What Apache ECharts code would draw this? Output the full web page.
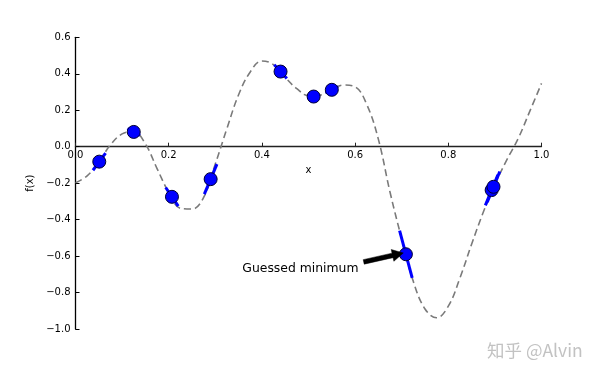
<!DOCTYPE html>
<html>
<head>
<meta charset="utf-8">
<script src="https://cdn.jsdelivr.net/npm/echarts@6/dist/echarts.min.js"></script>
<style>html,body{margin:0;padding:0;background:#fff;}#main{width:602px;height:376px;}</style>
</head>
<body>
<div id="main"></div>
<script>
// f(x) curve
const curveX = [0.000,0.025,0.050,0.075,0.100,0.125,0.150,0.175,0.200,0.225,0.250,0.275,0.300,0.325,0.350,0.375,0.400,0.425,0.450,0.475,0.500,0.525,0.550,0.575,0.600,0.625,0.650,0.675,0.700,0.725,0.750,0.775,0.800,0.825,0.850,0.875,0.900,0.925,0.950,0.975,1.000];
const curveY = [-0.198,-0.160,-0.085,0.010,0.070,0.083,0.015,-0.120,-0.250,-0.338,-0.342,-0.278,-0.095,0.100,0.285,0.410,0.470,0.450,0.380,0.318,0.280,0.283,0.312,0.338,0.328,0.232,0.040,-0.250,-0.505,-0.740,-0.890,-0.938,-0.875,-0.720,-0.535,-0.360,-0.208,-0.075,0.045,0.195,0.347];

// sampled points and their gradients
const pointX = [0.051,0.125,0.207,0.290,0.440,0.511,0.550,0.709,0.893,0.897];
const pointY = [-0.082,0.081,-0.275,-0.178,0.412,0.275,0.312,-0.590,-0.238,-0.220];
const pointSlope = [3.5,-1.4,-3.8,6.1,-2.8,0.0,1.3,-9.6,6.2,6.2];
const tangentHalfWidth = 0.0135;

// axis ticks
const xTicks = [0.0,0.2,0.4,0.6,0.8,1.0];
const yTicks = [-1.0,-0.8,-0.6,-0.4,-0.2,0.0,0.2,0.4,0.6];
const xName = 'x';
const yName = 'f(x)';

// annotation
const annText = 'Guessed minimum';
const annTextPos = [0.358, -0.668];
const annArrowTail = [0.6185, -0.632];
const annArrowTip = [0.7034, -0.583];

const font = 'DejaVu Sans';
const curveData = curveX.map((x, i) => [x, curveY[i]]);
const pointData = pointX.map((x, i) => [x, pointY[i]]);
const tangentData = pointX.map((x, i) => ({
  coords: [[x - tangentHalfWidth, pointY[i] - pointSlope[i] * tangentHalfWidth],
           [x + tangentHalfWidth, pointY[i] + pointSlope[i] * tangentHalfWidth]]
}));
const fmt = v => (v < 0 ? '\u2212' : '') + Math.abs(v).toFixed(1);

const chart = echarts.init(document.getElementById('main'));
chart.setOption({
  animation: false,
  backgroundColor: '#fff',
  grid: {left: 75.5, right: 60.5, top: 37.3, bottom: 47},
  xAxis: {
    type: 'value', min: xTicks[0], max: xTicks[xTicks.length - 1], interval: 0.2,
    axisLine: {onZero: true, lineStyle: {color: '#222', width: 1.3}},
    axisTick: {inside: true, length: 4, lineStyle: {color: '#222'}},
    axisLabel: {show: false},
    splitLine: {show: false}
  },
  yAxis: {
    type: 'value', min: yTicks[0], max: yTicks[yTicks.length - 1], interval: 0.2,
    name: yName, nameLocation: 'middle', nameGap: 34, nameRotate: 90,
    nameTextStyle: {fontFamily: font, fontSize: 10, color: '#000'},
    axisLine: {onZero: false, lineStyle: {color: '#000', width: 1.3}},
    axisTick: {inside: true, length: 4, lineStyle: {color: '#000'}},
    axisLabel: {margin: 5, fontFamily: font, fontSize: 10, color: '#000', formatter: fmt},
    splitLine: {show: false}
  },
  series: [
    {
      type: 'line', data: curveData, smooth: 0.4, showSymbol: false, z: 2,
      lineStyle: {color: '#7a7a7a', width: 1.6, type: [7, 4]}
    },
    {
      type: 'lines', coordinateSystem: 'cartesian2d', data: tangentData, z: 3,
      lineStyle: {color: '#0000ff', width: 3, opacity: 1}
    },
    {
      type: 'scatter', data: pointData, symbol: 'circle', symbolSize: 13, z: 4,
      itemStyle: {color: '#0000ff', borderColor: '#000033', borderWidth: 1, opacity: 1}
    },
    {
      // x tick labels and axis name, placed along the zero line
      type: 'custom', z: 5, clip: false, data: xTicks.map(v => [v]),
      renderItem: function (params, api) {
        const v = api.value(0);
        const c = api.coord([v, 0]);
        const children = [
          {type: 'text', x: c[0], y: c[1] + 4, style: {text: fmt(v), fontFamily: font, fontSize: 10, fill: '#000', align: 'center', verticalAlign: 'top'}}
        ];
        if (params.dataIndex === 0) {
          const m = api.coord([(xTicks[0] + xTicks[xTicks.length - 1]) / 2, 0]);
          children.push({type: 'text', x: m[0], y: m[1] + 24, style: {text: xName, fontFamily: font, fontSize: 10, fill: '#000', align: 'center', verticalAlign: 'middle'}});
        }
        return {type: 'group', children: children};
      }
    },
    {
      type: 'custom', z: 5, clip: false, data: [[annArrowTail[0], annArrowTail[1], annArrowTip[0], annArrowTip[1]]],
      renderItem: function (params, api) {
        const a = api.coord([api.value(0), api.value(1)]);
        const b = api.coord([api.value(2), api.value(3)]);
        const dx = b[0] - a[0], dy = b[1] - a[1];
        const L = Math.sqrt(dx * dx + dy * dy);
        const ux = dx / L, uy = dy / L, nx = -uy, ny = ux;
        const sw = 2.3, hw = 6, hl = 11;
        const bx = b[0] - ux * hl, by = b[1] - uy * hl;
        const pts = [
          [a[0] + nx * sw, a[1] + ny * sw],
          [bx + nx * sw, by + ny * sw],
          [bx + nx * hw, by + ny * hw],
          [b[0], b[1]],
          [bx - nx * hw, by - ny * hw],
          [bx - nx * sw, by - ny * sw],
          [a[0] - nx * sw, a[1] - ny * sw]
        ];
        const t = api.coord(annTextPos);
        return {
          type: 'group',
          children: [
            {type: 'polygon', shape: {points: pts}, style: {fill: '#000', stroke: '#000', lineWidth: 0.5}},
            {type: 'text', x: t[0], y: t[1], style: {text: annText, fontFamily: font, fontSize: 12.4, fill: '#000', align: 'left', verticalAlign: 'middle'}}
          ]
        };
      }
    }
  ],
  graphic: [
    {type: 'text', left: 487, top: 342, z: 10,
     style: {text: '知乎 @Alvin', fontFamily: 'Noto Sans CJK SC', fontSize: 17.5, fill: '#c2c2c2'}}
  ]
});
</script>
</body>
</html>
